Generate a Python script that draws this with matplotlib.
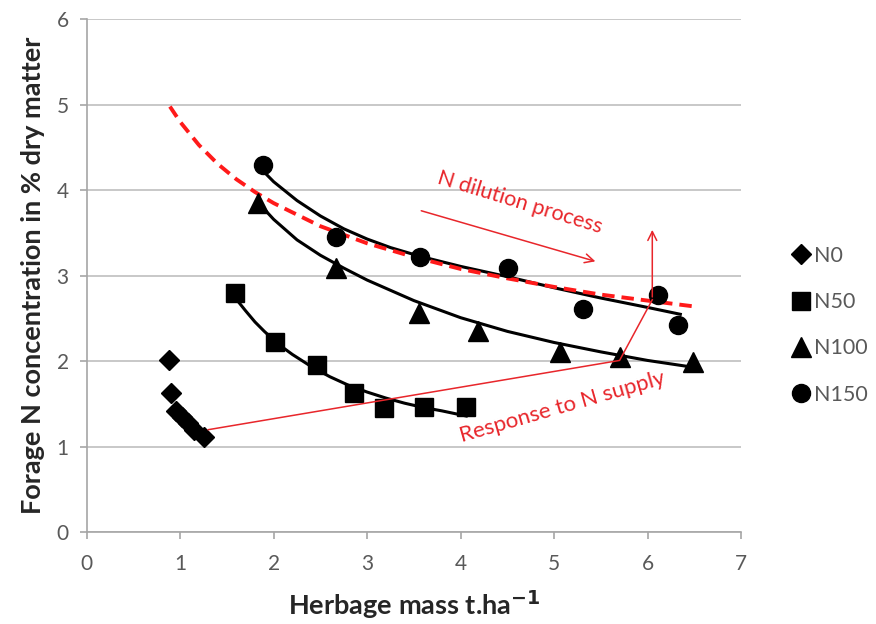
import matplotlib
matplotlib.use("Agg")
import numpy as np
import matplotlib.pyplot as plt

plt.rcParams['font.family'] = ['Lato', 'DejaVu Sans']

# measured points
n0_x = [0.88, 0.90, 0.95, 1.02, 1.08, 1.15, 1.25]
n0_y = [2.02, 1.63, 1.42, 1.35, 1.28, 1.20, 1.12]
n50_x = [1.59, 2.01, 2.46, 2.86, 3.18, 3.61, 4.06]
n50_y = [2.80, 2.22, 1.96, 1.63, 1.45, 1.47, 1.46]
n100_x = [1.83, 2.67, 3.55, 4.19, 5.06, 5.70, 6.49]
n100_y = [3.85, 3.09, 2.56, 2.35, 2.11, 2.05, 1.99]
n150_x = [1.89, 2.67, 3.56, 4.51, 5.31, 6.11, 6.33]
n150_y = [4.30, 3.45, 3.22, 3.09, 2.61, 2.77, 2.42]

# fitted curves
fit50_x = [1.59, 1.7, 1.8, 1.9, 2.0, 2.1, 2.2, 2.3, 2.4, 2.5, 2.6, 2.7, 2.8, 2.9, 3.0, 3.2, 3.4, 3.6, 3.8, 4.06]
fit50_y = [2.74, 2.59, 2.46, 2.35, 2.25, 2.16, 2.08, 2.01, 1.94, 1.88, 1.82, 1.77, 1.72, 1.68, 1.64, 1.57, 1.51, 1.46, 1.42, 1.36]
fit100_x = [1.84, 2.0, 2.25, 2.5, 2.75, 3.0, 3.25, 3.5, 4.0, 4.5, 5.0, 5.5, 6.0, 6.49]
fit100_y = [3.85, 3.66, 3.42, 3.24, 3.09, 2.95, 2.83, 2.71, 2.51, 2.35, 2.22, 2.11, 2.01, 1.93]
fit150_x = [1.91, 2.0, 2.25, 2.5, 2.75, 3.0, 3.25, 3.56, 4.0, 4.5, 5.0, 5.5, 6.0, 6.35]
fit150_y = [4.20, 4.10, 3.88, 3.70, 3.55, 3.43, 3.33, 3.23, 3.11, 2.99, 2.86, 2.74, 2.63, 2.55]

# critical N dilution curve (red dashed)
crit_x = [0.89, 1.0, 1.2, 1.4, 1.6, 1.8, 2.0, 2.5, 3.0, 3.5, 4.0, 4.5, 5.0, 5.5, 6.0, 6.51]
crit_y = [4.98, 4.80, 4.53, 4.31, 4.13, 3.98, 3.85, 3.58, 3.38, 3.22, 3.08, 2.97, 2.87, 2.78, 2.71, 2.64]

# response to N supply path
resp_x = [1.30, 5.70, 6.05]
resp_y = [1.20, 2.01, 2.72]

red = '#E8262B'
grey = '#595959'

fig = plt.figure(figsize=(8.76, 6.24), dpi=100)
ax = fig.add_axes([0.099, 0.147, 0.747, 0.822])

ax.set_xlim(0, 7)
ax.set_ylim(0, 6)
ax.set_xticks(range(0, 8))
ax.set_yticks(range(0, 7))
ax.yaxis.grid(True, color='#BFBFBF', linewidth=1.2)
ax.set_axisbelow(True)
for s in ['top', 'right']:
  ax.spines[s].set_visible(False)
for s in ['left', 'bottom']:
  ax.spines[s].set_color('#A6A6A6')
  ax.spines[s].set_linewidth(1.2)
ax.tick_params(axis='both', colors='#A6A6A6', labelcolor=grey, labelsize=15, length=5, width=1.2)
ax.tick_params(axis='x', pad=11)
ax.tick_params(axis='y', pad=8)

ax.plot(crit_x, crit_y, '--', color='#FF1A1A', linewidth=2.8, dashes=(3.2, 1.8), zorder=4)
ax.plot(fit50_x, fit50_y, '-', color='black', linewidth=2.2, zorder=3)
ax.plot(fit100_x, fit100_y, '-', color='black', linewidth=2.2, zorder=3)
ax.plot(fit150_x, fit150_y, '-', color='black', linewidth=2.2, zorder=3)

ax.plot(n0_x, n0_y, 'D', color='black', markersize=10.5, linestyle='none', label='N0', zorder=5)
ax.plot(n50_x, n50_y, 's', color='black', markersize=13, linestyle='none', label='N50', zorder=5)
ax.plot(n100_x, n100_y, '^', color='black', markersize=14, linestyle='none', label='N100', zorder=5)
ax.plot(n150_x, n150_y, 'o', color='black', markersize=13, linestyle='none', label='N150', zorder=5)

# annotations
ax.plot(resp_x, resp_y, '-', color=red, linewidth=1.1, zorder=6)
ax.annotate('', xy=(6.05, 3.57), xytext=(resp_x[-1], resp_y[-1]),
            arrowprops=dict(arrowstyle='->', color=red, lw=1.1, mutation_scale=16), zorder=6)
ax.annotate('', xy=(5.47, 3.16), xytext=(3.55, 3.77),
            arrowprops=dict(arrowstyle='->', color=red, lw=1.1, mutation_scale=16), zorder=6)
ax.text(4.63, 3.86, 'N dilution process', color=red, fontsize=15.5, rotation=-17,
        ha='center', va='center', rotation_mode='anchor')
ax.text(5.09, 1.46, 'Response to N supply', color=red, fontsize=16, rotation=16,
        ha='center', va='center', rotation_mode='anchor')

ax.set_xlabel('Herbage mass t.ha$^{\\mathbf{-1}}$', fontsize=19.5, fontweight='bold', color='#262626', labelpad=10)
ax.set_ylabel('Forage N concentration in % dry matter', fontsize=19.5, fontweight='bold', color='#262626', labelpad=8)

leg = ax.legend(loc='upper left', bbox_to_anchor=(1.065, 0.575), frameon=False, fontsize=15.5,
                handlelength=0.8, handletextpad=0.2, labelspacing=1.22, borderaxespad=0)
for t in leg.get_texts():
  t.set_color(grey)

fig.savefig('out.png', dpi=100)
